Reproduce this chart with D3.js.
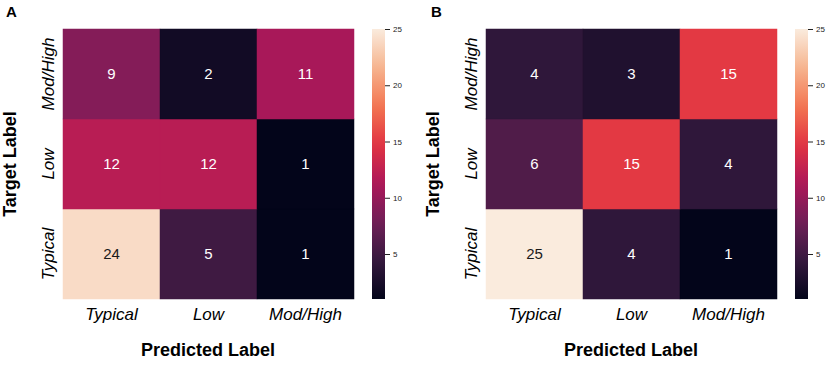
<!DOCTYPE html>
<html>
    <head>
        <meta charset="utf-8">
        <style>
            body { margin: 0; background: #fff; }
            text { font-family: "Liberation Sans", Arial, Helvetica, sans-serif; }
        </style>
    </head>
    <body>
        <svg width="829" height="365"></svg>
        <script src="https://d3js.org/d3.v7.min.js"></script>
        <script>
            // class labels, columns = predicted, rows = target
            const labels = ["Typical", "Low", "Mod/High"];
            const panelA = [[24, 5, 1], [12, 12, 1], [9, 2, 11]];
            const panelB = [[25, 4, 1], [6, 15, 4], [4, 3, 15]];
            const cbarTicks = [5, 10, 15, 20, 25];
            const vmin = 1, vmax = 25;

            // seaborn "rocket" approximated with a few stops
            const rocketStops = [0, 1/7, 2/7, 3/7, 4/7, 5/7, 6/7, 1];
            const rocketColors = ["#03051a", "#35193e", "#701f57", "#ad1759",
                                  "#e13342", "#f37651", "#f6b48f", "#faebdd"];
            const rocket = d3.scaleLinear().domain(rocketStops).range(rocketColors)
                .interpolate(d3.interpolateRgb);
            const color = v => rocket((v - vmin) / (vmax - vmin));

            let svg = d3.select("svg");

            // gradient for the colour bars
            let grad = svg.append("defs").append("linearGradient")
                .attr("id", "cbar").attr("x1", 0).attr("y1", 1).attr("x2", 0).attr("y2", 0);
            d3.range(0, 1.0001, 0.05).forEach(t => {
                grad.append("stop").attr("offset", t).attr("stop-color", rocket(t));
            });

            function drawPanel(dx, letter, matrix) {
                let g = svg.append("g").attr("transform", `translate(${dx},0)`);
                let x = d3.scaleBand().domain(labels).range([63, 354]);
                let y = d3.scaleBand().domain(labels.slice().reverse()).range([29, 299]);

                let cells = [];
                matrix.forEach((row, i) => row.forEach((v, j) => {
                    cells.push({target: labels[i], pred: labels[j], v: v});
                }));

                g.selectAll("rect.cell").data(cells).enter().append("rect")
                    .attr("class", "cell")
                    .attr("x", d => x(d.pred))
                    .attr("y", d => y(d.target))
                    .attr("width", x.bandwidth())
                    .attr("height", y.bandwidth())
                    .attr("fill", d => color(d.v))
                    .attr("stroke", d => color(d.v))
                    .attr("stroke-width", 0.5);

                g.selectAll("text.val").data(cells).enter().append("text")
                    .attr("class", "val")
                    .attr("x", d => x(d.pred) + x.bandwidth() / 2)
                    .attr("y", d => y(d.target) + y.bandwidth() / 2)
                    .attr("dy", "0.36em")
                    .attr("text-anchor", "middle")
                    .attr("font-size", 15)
                    .attr("fill", d => (d.v - vmin) / (vmax - vmin) > 0.8 ? "#1a1a1a" : "#fff")
                    .text(d => d.v);

                // x tick labels
                g.selectAll("text.xt").data(labels).enter().append("text")
                    .attr("class", "xt")
                    .attr("x", d => x(d) + x.bandwidth() / 2)
                    .attr("y", 320)
                    .attr("text-anchor", "middle")
                    .attr("font-size", 17)
                    .attr("font-style", "italic")
                    .attr("fill", "#000")
                    .text(d => d);

                // y tick labels (rotated)
                g.selectAll("text.yt").data(labels).enter().append("text")
                    .attr("class", "yt")
                    .attr("transform", d => `translate(54,${y(d) + y.bandwidth() / 2}) rotate(-90)`)
                    .attr("text-anchor", "middle")
                    .attr("font-size", 17)
                    .attr("font-style", "italic")
                    .attr("fill", "#000")
                    .text(d => d);

                g.append("text")
                    .attr("x", 208).attr("y", 356)
                    .attr("text-anchor", "middle")
                    .attr("font-size", 18).attr("font-weight", "bold")
                    .attr("fill", "#000")
                    .text("Predicted Label");

                g.append("text")
                    .attr("transform", "translate(16,164) rotate(-90)")
                    .attr("text-anchor", "middle")
                    .attr("font-size", 18).attr("font-weight", "bold")
                    .attr("fill", "#000")
                    .text("Target Label");

                g.append("text")
                    .attr("x", dx === 0 ? 6 : 8).attr("y", 17)
                    .attr("font-size", 15).attr("font-weight", "bold")
                    .attr("fill", "#000")
                    .text(letter);

                // colour bar
                let cy = d3.scaleLinear().domain([vmin, vmax]).range([299, 29]);
                g.append("rect")
                    .attr("x", 372).attr("y", cy(vmax))
                    .attr("width", 13).attr("height", cy(vmin) - cy(vmax))
                    .attr("fill", "url(#cbar)");
                let ax = g.append("g")
                    .attr("transform", "translate(385,0)")
                    .call(d3.axisRight(cy).tickValues(cbarTicks).tickSize(5).tickPadding(3));
                ax.select(".domain").remove();
                ax.selectAll("text").attr("font-size", 8).attr("fill", "#222")
                    .style("font-family", "'Liberation Sans', Arial, sans-serif");
                ax.selectAll("line").attr("stroke", "#222");
            }

            drawPanel(0, "A", panelA);
            drawPanel(423, "B", panelB);
        </script>
    </body>
</html>
